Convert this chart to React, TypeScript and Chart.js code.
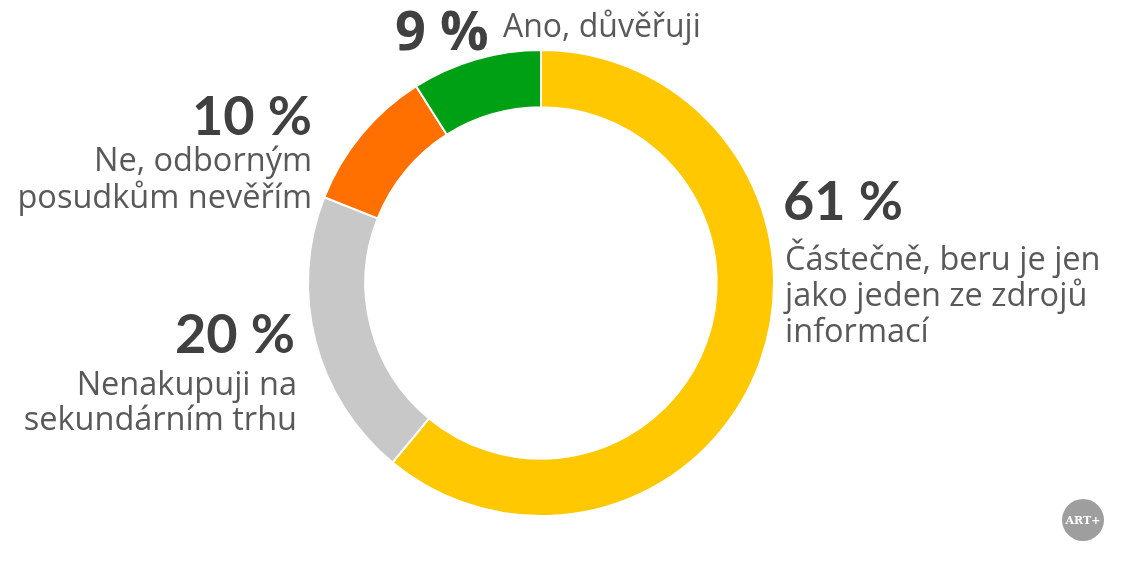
import React, { useEffect, useRef } from "react";
import { Chart, registerables } from "chart.js";

Chart.register(...registerables);

const categories = [
  "Částečně, beru je jen|jako jeden ze zdrojů|informací",
  "Nenakupuji na|sekundárním trhu",
  "Ne, odborným|posudkům nevěřím",
  "Ano, důvěřuji",
];
const values = [61, 20, 10, 9];
const valueLabels = ["61 %", "20 %", "10 %", "9 %"];
const colors = ["#FFC800", "#C8C8C8", "#FF7000", "#00A014"];

const labelPlugin = {
  id: "sliceLabels",
  afterDraw(chart: any) {
    const ctx = chart.ctx as CanvasRenderingContext2D;
    const meta = chart.getDatasetMeta(0);
    const arc = meta.data[0];
    const cx = arc.x;
    const cy = arc.y;
    ctx.save();
    ctx.textBaseline = "alphabetic";
    const numFont = "bold 54px Lato";
    const txtFont = "32.5px 'Open Sans'";
    const numColor = "#404040";
    const txtColor = "#595959";

    // 61 %
    ctx.textAlign = "left";
    ctx.fillStyle = numColor;
    ctx.font = numFont;
    ctx.fillText(valueLabels[0], cx + 242, cy - 63);
    ctx.fillStyle = txtColor;
    ctx.font = txtFont;
    categories[0].split("|").forEach((l, i) => ctx.fillText(l, cx + 244, cy - 13 + i * 36));

    // 20 %
    ctx.textAlign = "right";
    ctx.fillStyle = numColor;
    ctx.font = numFont;
    ctx.fillText(valueLabels[1], cx - 246, cy + 70);
    ctx.fillStyle = txtColor;
    ctx.font = txtFont;
    categories[1].split("|").forEach((l, i) => ctx.fillText(l, cx - 244, cy + 112 + i * 35));

    // 10 %
    ctx.fillStyle = numColor;
    ctx.font = numFont;
    ctx.fillText(valueLabels[2], cx - 229, cy - 148);
    ctx.fillStyle = txtColor;
    ctx.font = txtFont;
    categories[2].split("|").forEach((l, i) => ctx.fillText(l, cx - 229, cy - 112 + i * 37));

    // 9 %
    ctx.textAlign = "left";
    ctx.fillStyle = numColor;
    ctx.font = "bold 54px 'Open Sans'";
    ctx.fillText(valueLabels[3], cx - 146, cy - 233);
    ctx.fillStyle = txtColor;
    ctx.font = "32px 'Open Sans'";
    ctx.fillText(categories[3], cx - 38, cy - 246);

    // logo
    ctx.beginPath();
    ctx.fillStyle = "#9E9E9E";
    ctx.arc(1083, 520, 21, 0, Math.PI * 2);
    ctx.fill();
    ctx.fillStyle = "#FFFFFF";
    ctx.font = "bold 11px 'DejaVu Serif'";
    ctx.textAlign = "center";
    ctx.textBaseline = "middle";
    ctx.fillText("ART+", 1083, 521);
    ctx.restore();
  },
};

export default function App() {
  const ref = useRef<HTMLCanvasElement>(null);
  useEffect(() => {
    if (!ref.current) return;
    const chart = new Chart(ref.current, {
      type: "doughnut",
      data: {
        labels: categories.map((c) => c.replace(/\|/g, " ")),
        datasets: [
          {
            data: values,
            backgroundColor: colors,
            borderColor: "#FFFFFF",
            borderWidth: 2,
          },
        ],
      },
      options: {
        animation: false,
        responsive: true,
        maintainAspectRatio: false,
        cutout: "75.4%",
        layout: { padding: { left: 307, right: 360, top: 49, bottom: 50 } },
        plugins: { legend: { display: false }, tooltip: { enabled: false } },
      },
      plugins: [labelPlugin],
    });
    return () => chart.destroy();
  }, []);
  return (
    <div style={{ position: "fixed", left: 0, top: 0, width: 1135, height: 567, background: "#fff" }}>
      <canvas ref={ref} />
    </div>
  );
}
